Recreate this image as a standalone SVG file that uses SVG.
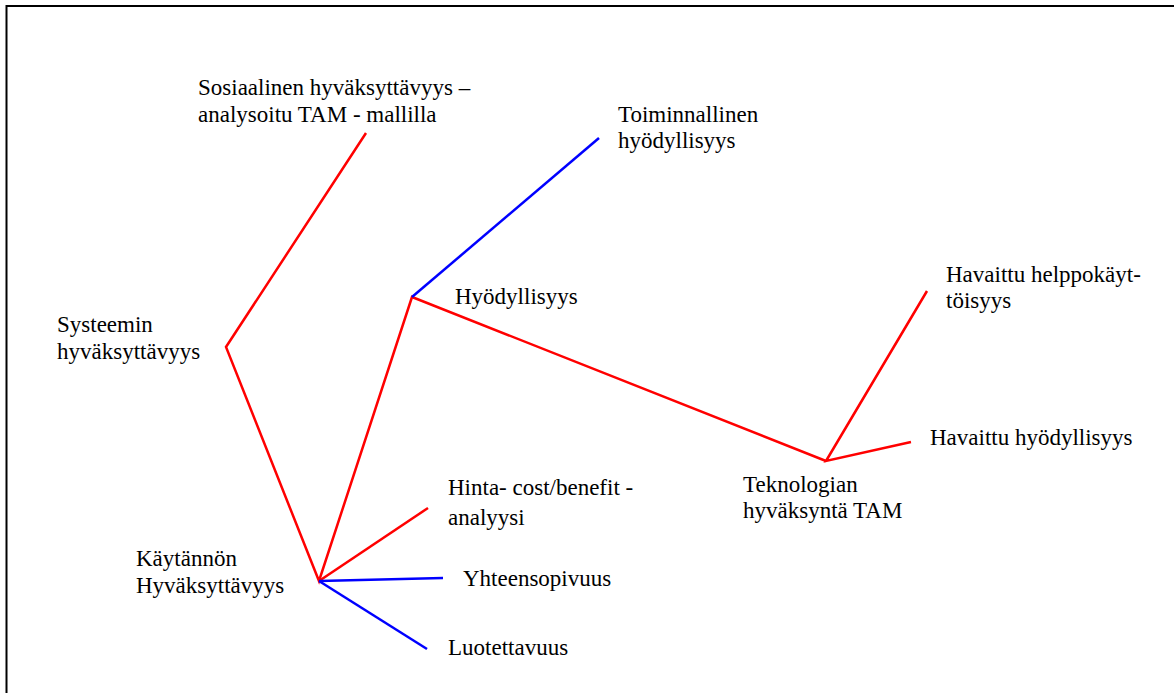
<svg xmlns="http://www.w3.org/2000/svg" width="1174" height="693" viewBox="0 0 1174 693">
  <style>
    text { font-family: "Liberation Serif", "Times New Roman", serif; font-size: 23px; fill: #000; }
    .red { stroke: #ff0000; stroke-width: 2.5; fill: none; }
    .blue { stroke: #0000ff; stroke-width: 2.5; fill: none; }
    .frame { stroke: #000; stroke-width: 2; fill: none; }
  </style>
  <rect width="1174" height="693" fill="#fff"/>
  <path class="frame" d="M6.5,693 V6 H1174"/>

  <g id="connectors">
    <path class="red" d="M366,133 L226,347 L319,581 L412,297 L826,461"/>
    <path class="blue" d="M412,297 L599,138"/>
    <path class="red" d="M927,291 L826,461 L911,442"/>
    <path class="red" d="M319,581 L428,508"/>
    <path class="blue" d="M319,581 L443,578"/>
    <path class="blue" d="M319,581 L427,649"/>
  </g>

  <g id="sosiaalinen">
    <text x="198" y="95">Sosiaalinen hyväksyttävyys –</text>
    <text x="198" y="122">analysoitu TAM - mallilla</text>
  </g>
  <g id="systeemin">
    <text x="57" y="332">Systeemin</text>
    <text x="57" y="359">hyväksyttävyys</text>
  </g>
  <g id="kaytannon">
    <text x="136" y="566">Käytännön</text>
    <text x="136" y="593">Hyväksyttävyys</text>
  </g>
  <g id="toiminnallinen">
    <text x="618" y="122">Toiminnallinen</text>
    <text x="618" y="148">hyödyllisyys</text>
  </g>
  <g id="hyodyllisyys">
    <text x="455" y="304">Hyödyllisyys</text>
  </g>
  <g id="hinta">
    <text x="448" y="495">Hinta- cost/benefit -</text>
    <text x="448" y="525">analyysi</text>
  </g>
  <g id="yhteensopivuus">
    <text x="463" y="586">Yhteensopivuus</text>
  </g>
  <g id="luotettavuus">
    <text x="448" y="655">Luotettavuus</text>
  </g>
  <g id="teknologian">
    <text x="743" y="492">Teknologian</text>
    <text x="743" y="518">hyväksyntä TAM</text>
  </g>
  <g id="havaittu-hyodyllisyys">
    <text x="930" y="445">Havaittu hyödyllisyys</text>
  </g>
  <g id="havaittu-helppokayttoisyys">
    <text x="946" y="282">Havaittu helppokäyt-</text>
    <text x="946" y="308">töisyys</text>
  </g>
</svg>
